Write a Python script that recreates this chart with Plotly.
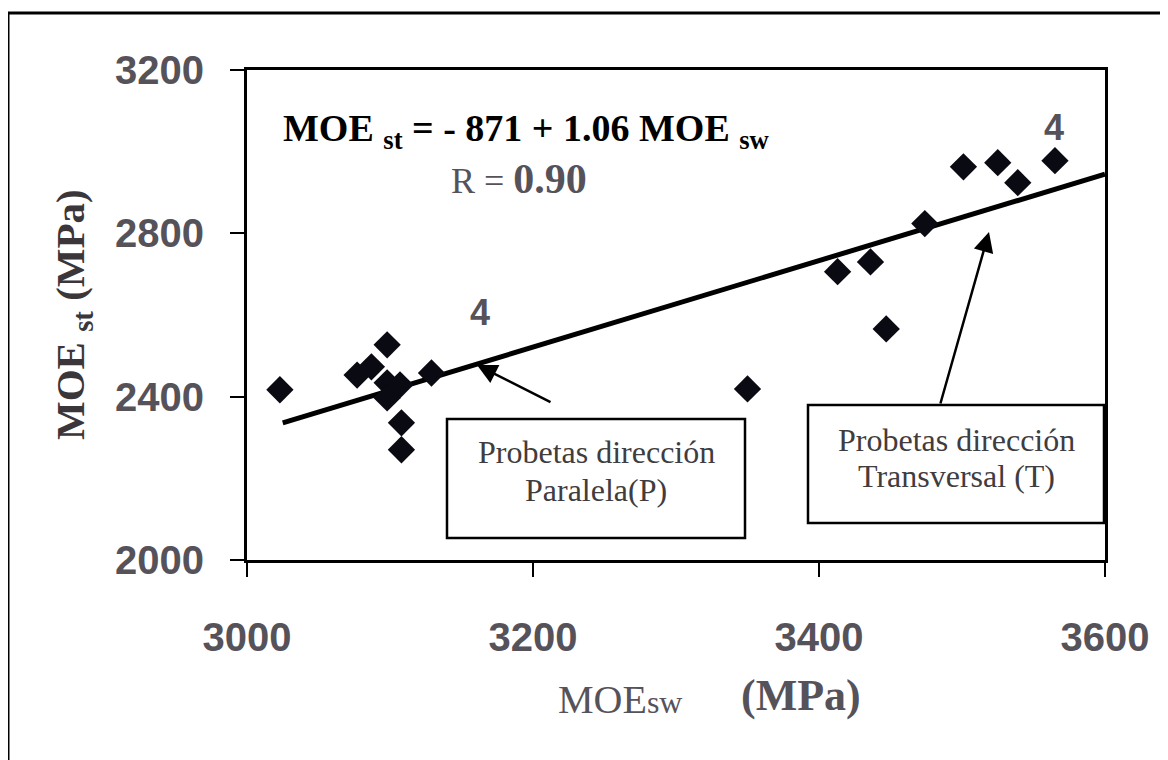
import plotly.graph_objects as go

# ---- data ----
moe_sw = [3023, 3077, 3087, 3098, 3098, 3098, 3107, 3129, 3108, 3108,
          3350,
          3413, 3436, 3447, 3474, 3501, 3525, 3539, 3565]
moe_st = [2417, 2453, 2473, 2527, 2434, 2397, 2429, 2458, 2336, 2270,
          2419,
          2706, 2730, 2566, 2824, 2963, 2973, 2924, 2978]

fit_x = [3025, 3600]
fit_y = [2336, 2945]

x_ticks = [3000, 3200, 3400, 3600]
y_ticks = [2000, 2400, 2800, 3200]

GREY = "#56525a"
SERIF = "Liberation Serif, Times New Roman, serif"
SANS = "Liberation Sans, Arial, sans-serif"

fig = go.Figure()
fig.add_trace(go.Scatter(x=fit_x, y=fit_y, mode="lines",
                         line=dict(color="black", width=5), showlegend=False,
                         cliponaxis=False))
fig.add_trace(go.Scatter(x=moe_sw, y=moe_st, mode="markers",
                         marker=dict(symbol="diamond", size=21, color="#0a0a12",
                                     line=dict(width=0)),
                         showlegend=False, cliponaxis=False))

OFF = 8  # page body margin
W, H = 1168, 760
L, T = 247 - OFF, 70 - OFF
PW, PH = 858, 490
R = W - L - PW
B = H - T - PH

fig.update_layout(
    width=W, height=H,
    margin=dict(l=L, r=R, t=T, b=B),
    paper_bgcolor="white", plot_bgcolor="white",
    xaxis=dict(range=[3000, 3600], tickvals=x_ticks, showgrid=False, zeroline=False,
               showline=True, linecolor="black", linewidth=3, mirror=True,
               ticks="outside", ticklen=14, tickwidth=2, tickcolor="black",
               ticklabelstandoff=26,
               tickfont=dict(family=SANS, size=40, color=GREY, weight="bold")),
    yaxis=dict(range=[2000, 3200], tickvals=y_ticks, showgrid=False, zeroline=False,
               showline=True, linecolor="black", linewidth=3, mirror=True,
               ticks="outside", ticklen=14, tickwidth=2, tickcolor="black",
               ticklabelstandoff=18,
               tickfont=dict(family=SANS, size=40, color=GREY, weight="bold")),
)

def px2paper_x(px):
    return (px - OFF - L) / PW

def px2paper_y(py):
    return (T + PH - (py - OFF)) / PH

# outer frame (cropped on right/bottom)
fig.add_shape(type="line", xref="paper", yref="paper",
              x0=px2paper_x(8), y0=px2paper_y(13), x1=px2paper_x(8), y1=px2paper_y(800),
              line=dict(color="black", width=3))
fig.add_shape(type="line", xref="paper", yref="paper",
              x0=px2paper_x(8), y0=px2paper_y(13), x1=px2paper_x(1200), y1=px2paper_y(13),
              line=dict(color="black", width=3))

# label boxes
fig.add_shape(type="rect", xref="paper", yref="paper",
              x0=px2paper_x(447), x1=px2paper_x(745), y0=px2paper_y(538), y1=px2paper_y(419),
              line=dict(color="black", width=2.5), fillcolor="white", layer="above")
fig.add_shape(type="rect", xref="paper", yref="paper",
              x0=px2paper_x(808), x1=px2paper_x(1104), y0=px2paper_y(523), y1=px2paper_y(405),
              line=dict(color="black", width=2.5), fillcolor="white", layer="above")

def ann(px, py, text, size, color, family=SERIF, bold=False, angle=0):
    fig.add_annotation(xref="paper", yref="paper", x=px2paper_x(px), y=px2paper_y(py),
                       text=text, showarrow=False, textangle=angle,
                       xanchor="center", yanchor="middle",
                       font=dict(family=family, size=size, color=color,
                                 weight="bold" if bold else "normal"))

ann(596, 452, "Probetas dirección", 32, "#403c40")
ann(596, 490, "Paralela(P)", 32, "#403c40")
ann(956, 440, "Probetas dirección", 32, "#403c40")
ann(956, 476, "Transversal (T)", 32, "#403c40")

ann(526, 131, "MOE <sub>st</sub> = - 871 + 1.06 MOE <sub>sw</sub>", 38, "black", bold=True)
ann(519, 179, "R = <b><span style='font-size:42px'>0.90</span></b>", 36, GREY)

ann(480, 312, "4", 36, GREY, family=SANS, bold=True)
ann(1054, 128, "4", 36, GREY, family=SANS, bold=True)

ann(73, 315, "MOE <sub>st</sub> (MPa)", 41, "#3a363a", bold=True, angle=-90)
ann(620, 699, "MOE<span style='font-size:32px'>sw</span>", 40, GREY)
ann(801, 695, "(MPa)", 44, GREY, bold=True)

# arrows
def arrow(hx, hy, tx, ty):
    fig.add_annotation(xref="paper", yref="paper", x=px2paper_x(hx), y=px2paper_y(hy),
                       axref="pixel", ayref="pixel", ax=tx - hx, ay=ty - hy,
                       text="", showarrow=True, arrowhead=2, arrowsize=1.6,
                       arrowwidth=2.5, arrowcolor="black")

arrow(477, 365, 552, 403)
arrow(989, 232, 940, 405)

fig.write_html("out.html")
